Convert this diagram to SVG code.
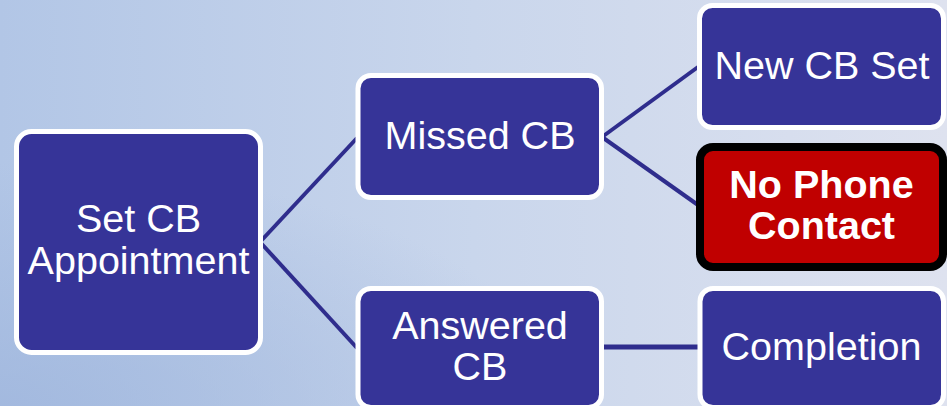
<svg xmlns="http://www.w3.org/2000/svg" width="947" height="406" viewBox="0 0 947 406">
  <defs>
    <linearGradient id="bg" x1="0" y1="0" x2="1" y2="0">
      <stop offset="0" stop-color="#B2C6E6"/>
      <stop offset="0.5" stop-color="#C9D6EC"/>
      <stop offset="1" stop-color="#DEE2EF"/>
    </linearGradient>
    <radialGradient id="corner" cx="0" cy="1" r="0.6" gradientUnits="objectBoundingBox">
      <stop offset="0" stop-color="#9FB6DD" stop-opacity="0.8"/>
      <stop offset="1" stop-color="#9FB6DD" stop-opacity="0"/>
    </radialGradient>
    <style>
      .box { fill: #363498; stroke: #FFFFFF; stroke-width: 5; }
      .alert { fill: #C00000; stroke: #000000; stroke-width: 8; }
      .lbl { fill: #FFFFFF; font-family: "Liberation Sans", Arial, sans-serif; font-size: 39.5px; text-anchor: middle; }
      .bold { font-weight: bold; }
      .conn { stroke: #2F2D8D; stroke-width: 4; fill: none; }
    </style>
  </defs>
  <rect x="0" y="0" width="947" height="406" fill="url(#bg)"/>
  <rect x="0" y="0" width="947" height="406" fill="url(#corner)"/>

  <g id="connectors">
    <line class="conn" x1="260" y1="242" x2="357" y2="138"/>
    <line class="conn" x1="260" y1="242" x2="357" y2="348"/>
    <line class="conn" x1="602" y1="137" x2="698" y2="67"/>
    <line class="conn" x1="602" y1="137" x2="698" y2="205"/>
    <line class="conn" x1="602" y1="347" x2="698" y2="347" style="stroke-width:5"/>
  </g>

  <g id="set-cb-appointment">
    <rect class="box" x="16.5" y="131.5" width="244" height="221" rx="15"/>
    <text class="lbl" x="138.5" y="232">Set CB</text>
    <text class="lbl" x="138.5" y="274">Appointment</text>
  </g>

  <g id="missed-cb">
    <rect class="box" x="358" y="75.5" width="243.5" height="122" rx="13"/>
    <text class="lbl" x="480" y="149">Missed CB</text>
  </g>

  <g id="answered-cb">
    <rect class="box" x="358" y="288.5" width="243.5" height="119" rx="13"/>
    <text class="lbl" x="480" y="339">Answered</text>
    <text class="lbl" x="480" y="380">CB</text>
  </g>

  <g id="new-cb-set">
    <rect class="box" x="699.5" y="5.5" width="244" height="122" rx="13"/>
    <text class="lbl" x="822" y="79">New CB Set</text>
  </g>

  <g id="no-phone-contact">
    <rect class="alert" x="700" y="147" width="243" height="120" rx="13"/>
    <text class="lbl bold" x="821.5" y="198">No Phone</text>
    <text class="lbl bold" x="821.5" y="239">Contact</text>
  </g>

  <g id="completion">
    <rect class="box" x="700" y="288.5" width="243.5" height="119" rx="13"/>
    <text class="lbl" x="821.5" y="360">Completion</text>
  </g>
</svg>
